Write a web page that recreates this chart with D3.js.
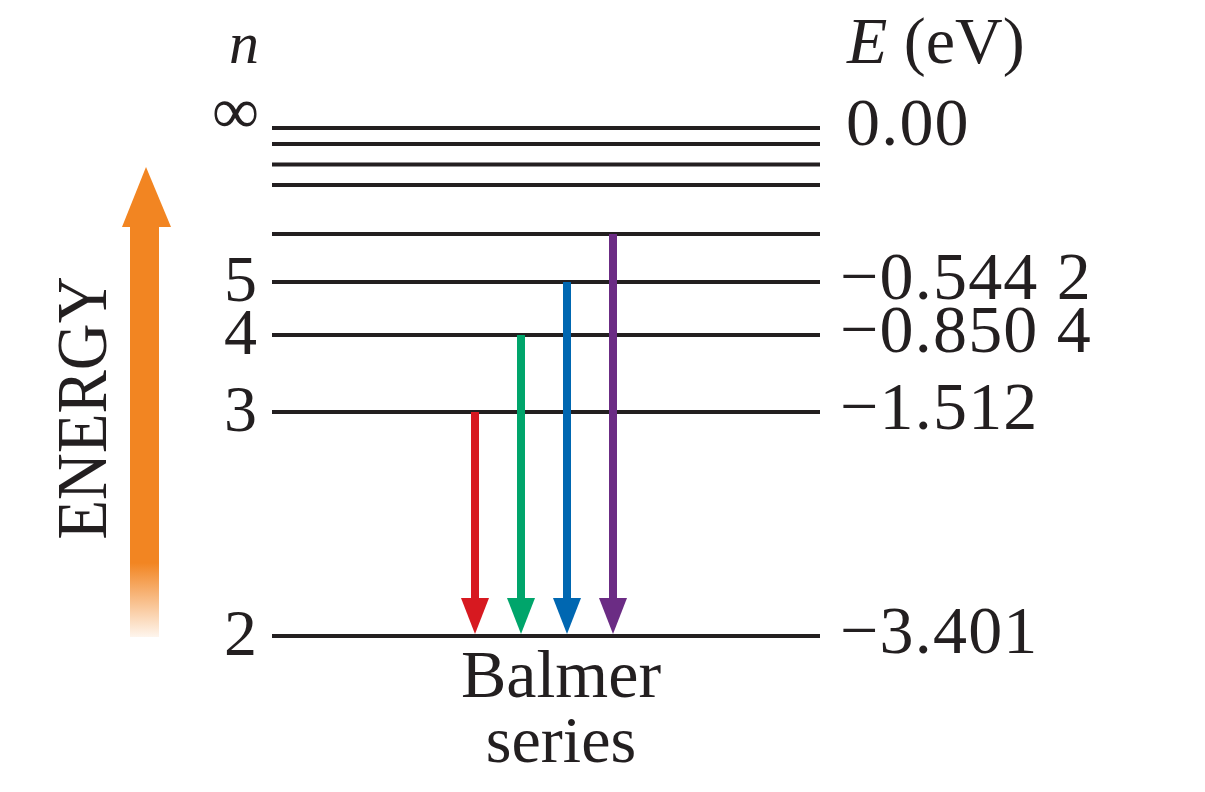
<!DOCTYPE html>
<html lang="en">
<head>
<meta charset="UTF-8">
<title>Balmer series</title>
<script src="https://d3js.org/d3.v7.min.js"></script>
<style>
  body { margin: 0; background: #fff; }
  text { font-family: "Liberation Serif", "DejaVu Serif", serif; fill: #231f20; }
</style>
</head>
<body>
<script>
// hydrogen levels, lowest shown (n = 2) up to the ionisation limit
const levelN = [2, 3, 4, 5, 6, 7, 8, 9, Infinity];
const levelEnergy = [-3.401, -1.512, -0.8504, -0.5442, -0.3779, -0.2777, -0.2126, -0.1680, 0];
const nLabels = ["2", "3", "4", "5", "", "", "", "", "\u221e"];
const energyLabels = ["\u22123.401", "\u22121.512", "\u22120.850 4", "\u22120.544 2", "", "", "", "", "0.00"];

// Balmer transitions: upper level -> n = 2
const transitionFrom = [3, 4, 5, 6];
const transitionTo = 2;

const width = 1205, height = 792;
const colors = ["#d71920", "#00a56b", "#0067b1", "#6b2c84"];
const orange = "#f28522";

const svg = d3.select("body").append("svg")
    .attr("width", width)
    .attr("height", height);

// the drawing is not to scale, so map energy piecewise onto the figure
const y = d3.scaleLinear()
    .domain(levelEnergy)
    .range([636, 412, 335, 282, 234, 185, 164.5, 144, 128]);

const x = d3.scalePoint()
    .domain(transitionFrom)
    .range([475, 613]);

const energyOf = n => levelEnergy[levelN.indexOf(n)];

const levels = levelN.map((n, i) => ({n, e: levelEnergy[i], nl: nLabels[i], el: energyLabels[i]}));

// level lines
svg.append("g").selectAll("line")
    .data(levels)
    .join("line")
    .attr("x1", 272).attr("x2", 820)
    .attr("y1", d => y(d.e)).attr("y2", d => y(d.e))
    .attr("stroke", "#231f20")
    .attr("stroke-width", 4);

// n labels
svg.append("g").selectAll("text")
    .data(levels.filter(d => d.nl !== ""))
    .join("text")
    .attr("x", d => d.n === Infinity ? 259 : 257)
    .attr("y", d => d.n === Infinity ? y(d.e) + 5 : y(d.e) + 19)
    .attr("text-anchor", "end")
    .attr("font-size", 66)
    .text(d => d.nl);

// energy labels
svg.append("g").selectAll("text")
    .data(levels.filter(d => d.el !== ""))
    .join("text")
    .attr("x", d => d.e === 0 ? 846 : 840)
    .attr("y", d => y(d.e) + 17)
    .attr("font-size", 68)
    .attr("letter-spacing", 1.2)
    .attr("xml:space", "preserve")
    .text(d => d.el);

// column headers
svg.append("text")
    .attr("x", 259).attr("y", 63)
    .attr("text-anchor", "end")
    .attr("font-size", 60)
    .attr("font-style", "italic")
    .text("n");

const eh = svg.append("text")
    .attr("x", 847).attr("y", 63)
    .attr("font-size", 66);
eh.append("tspan").attr("font-style", "italic").text("E");
eh.append("tspan").text(" (eV)");

// Balmer arrows
const headW = 28, headH = 36;
const arrows = svg.append("g").selectAll("g")
    .data(transitionFrom)
    .join("g");

arrows.append("line")
    .attr("x1", d => x(d)).attr("x2", d => x(d))
    .attr("y1", d => y(energyOf(d)))
    .attr("y2", y(energyOf(transitionTo)) - headH)
    .attr("stroke", (d, i) => colors[i])
    .attr("stroke-width", 8);

arrows.append("path")
    .attr("d", d => {
        const cx = x(d), tip = y(energyOf(transitionTo)) - 2;
        return `M${cx - headW / 2},${tip - headH}L${cx + headW / 2},${tip - headH}L${cx},${tip}Z`;
    })
    .attr("fill", (d, i) => colors[i]);

svg.append("text")
    .attr("x", 561).attr("y", 697)
    .attr("text-anchor", "middle")
    .attr("font-size", 68)
    .text("Balmer");

svg.append("text")
    .attr("x", 561).attr("y", 762)
    .attr("text-anchor", "middle")
    .attr("font-size", 66)
    .text("series");

// ENERGY arrow
const grad = svg.append("defs").append("linearGradient")
    .attr("id", "fade")
    .attr("gradientUnits", "userSpaceOnUse")
    .attr("x1", 0).attr("x2", 0)
    .attr("y1", 637).attr("y2", 563);
grad.append("stop").attr("offset", 0).attr("stop-color", orange).attr("stop-opacity", 0.08);
grad.append("stop").attr("offset", 1).attr("stop-color", orange).attr("stop-opacity", 1);

svg.append("rect")
    .attr("x", 130).attr("y", 226)
    .attr("width", 29).attr("height", 411)
    .attr("fill", "url(#fade)");

svg.append("path")
    .attr("d", "M122,227L171,227L146,167Z")
    .attr("fill", orange);

svg.append("text")
    .attr("transform", "translate(106,408) rotate(-90)")
    .attr("text-anchor", "middle")
    .attr("font-size", 72)
    .attr("textLength", 263)
    .attr("lengthAdjust", "spacingAndGlyphs")
    .text("ENERGY");
</script>
</body>
</html>
